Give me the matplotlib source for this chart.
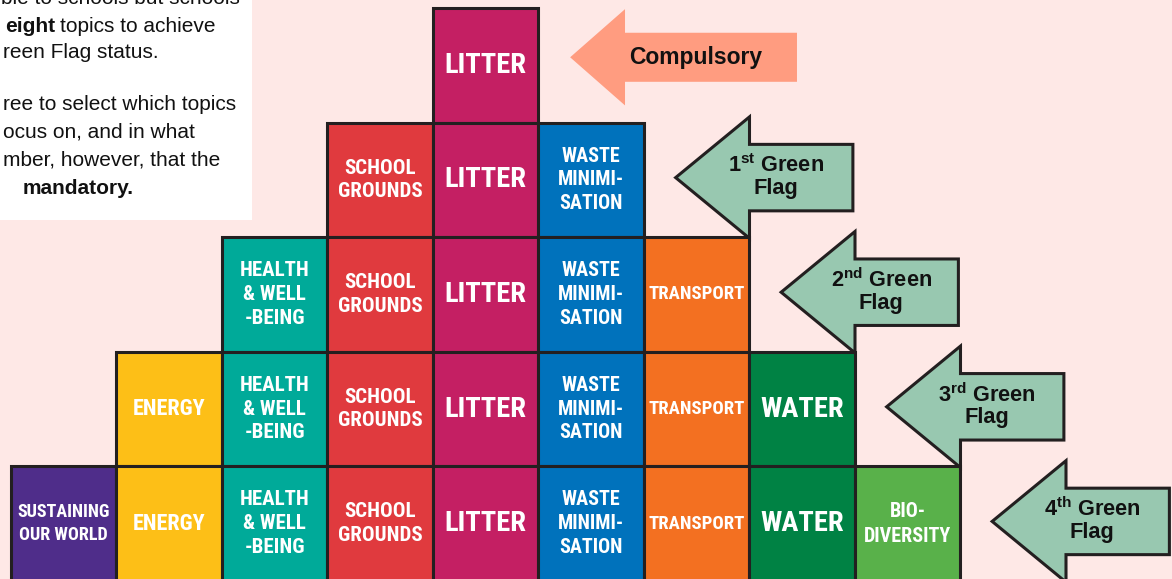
import matplotlib
matplotlib.use("Agg")
import matplotlib.pyplot as plt
from matplotlib import font_manager
from matplotlib.patches import Rectangle, Polygon

# topics along the bottom of the pyramid, left to right
topics = ["SUSTAINING\nOUR WORLD", "ENERGY", "HEALTH\n& WELL\n-BEING", "SCHOOL\nGROUNDS",
          "LITTER", "WASTE\nMINIMI-\nSATION", "TRANSPORT", "WATER", "BIO-\nDIVERSITY"]
topic_colors = ["#4f2d8a", "#fdbf17", "#00aa99", "#e03a3e", "#c41f63",
                "#0072bc", "#f37021", "#008244", "#59b14a"]
topic_sizes = [13, 16, 15, 15, 20.5, 14.5, 13.5, 20.5, 14.5]
topic_spacing = [1.35, 1.3, 1.32, 1.32, 1.3, 1.32, 1.3, 1.3, 1.4]

# pyramid levels, top to bottom: first and last topic on each level
level_first = [4, 3, 2, 1, 0]
level_last = [4, 5, 6, 7, 8]
level_flags = ["Compulsory",
               "1$^{\\mathrm{st}}$ Green\nFlag",
               "2$^{\\mathrm{nd}}$ Green\nFlag",
               "3$^{\\mathrm{rd}}$ Green\nFlag",
               "4$^{\\mathrm{th}}$ Green\nFlag"]

# side note, cropped on the left in the original
note_lines = ["ble to schools but schools", "eight", "reen Flag status.",
              "ree to select which topics", "ocus on, and in what",
              "mber, however, that the", "mandatory."]
note_bold = [False, True, False, False, False, False, True]
note_tail = {1: "topics to achieve"}
note_y = [-2, 26, 53, 105, 132, 160, 188]
note_x = [1, 5, 3, 3, 3, 3, 23]

BG = "#fee8e6"
EDGE = "#231f20"

# pixel geometry of the grid
X0, CW, Y0, RH = 11.0, 105.5, 8.0, 114.6


def px(x, y):
    """
    Convert reference pixel position to grid coordinates.
    """
    return (x - X0) / CW, (y - Y0) / RH


names = {f.name for f in font_manager.fontManager.ttflist}
narrow, scale = "Liberation Sans", 0.85
for cand in ["Liberation Sans Narrow", "Roboto Condensed", "PT Sans Narrow", "Asap Condensed"]:
    if cand in names:
        narrow, scale = cand, 1.0
        break

plt.rcParams["mathtext.fontset"] = "custom"
plt.rcParams["mathtext.rm"] = "Liberation Sans:bold"
plt.rcParams["mathtext.bf"] = "Liberation Sans:bold"

fig = plt.figure(figsize=(11.72, 5.79), dpi=100)
fig.patch.set_facecolor(BG)
ax = fig.add_axes([0, 0, 1, 1])
ax.set_facecolor(BG)
xa, ya = px(0, 0)
xb, yb = px(1172, 579)
ax.set_xlim(xa, xb)
ax.set_ylim(yb, ya)
ax.axis("off")
renderer = fig.canvas.get_renderer()

# note box
bx0, by0 = px(0, 0)
bx1, by1 = px(252, 220)
ax.add_patch(Rectangle((bx0, by0), bx1 - bx0, by1 - by0, fc="white", ec="none", zorder=1))
for i, line in enumerate(note_lines):
    tx, ty = px(note_x[i], note_y[i])
    t = ax.text(tx, ty, line, family="Liberation Sans", fontsize=15,
                fontweight="bold" if note_bold[i] else "normal",
                ha="left", va="center", color="#111111", zorder=2)
    if i in note_tail:
        x1 = t.get_window_extent(renderer).x1 + 5
        tx, ty = px(x1, note_y[i])
        ax.text(tx, ty, note_tail[i], family="Liberation Sans", fontsize=15,
                ha="left", va="center", color="#111111", zorder=2)

# pyramid
for lvl, (a, b) in enumerate(zip(level_first, level_last)):
    for c in range(a, b + 1):
        ax.add_patch(Rectangle((c, lvl), 1, 1, fc=topic_colors[c], ec=EDGE, lw=2.2, zorder=3))
        ax.text(c + 0.5, lvl + 0.5, topics[c], family=narrow, fontweight="bold",
                fontsize=topic_sizes[c] * scale, color="white", ha="center", va="center",
                linespacing=topic_spacing[c], zorder=4)

# flag arrows
for lvl, label in enumerate(level_flags):
    tip = lvl + 5.30
    if lvl == 0:
        base, right, cy, hh, bh = tip + 0.52, tip + 2.15, 0.43, 0.42, 0.214
        fc, ec, lw = "#ff9c80", "none", 0
        tx, ty = 6.49, 0.43
    else:
        base, right, cy, hh, bh = tip + 0.70, tip + 1.68, lvl + 0.48, 0.53, 0.29
        fc, ec, lw = "#98c8b0", EDGE, 2.2
        tx, ty = lvl + 6.25, lvl + 0.47
    pts = [(tip, cy), (base, cy - hh), (base, cy - bh), (right, cy - bh),
           (right, cy + bh), (base, cy + bh), (base, cy + hh)]
    ax.add_patch(Polygon(pts, closed=True, fc=fc, ec=ec, lw=lw, joinstyle="miter", zorder=3))
    ax.text(tx, ty, label, family="Liberation Sans", fontweight="bold",
            fontsize=16.5 if lvl == 0 else 15.7, color="#111111",
            ha="center", va="center", linespacing=1.05, zorder=4)

fig.savefig("out.png", dpi=100, facecolor=BG)
